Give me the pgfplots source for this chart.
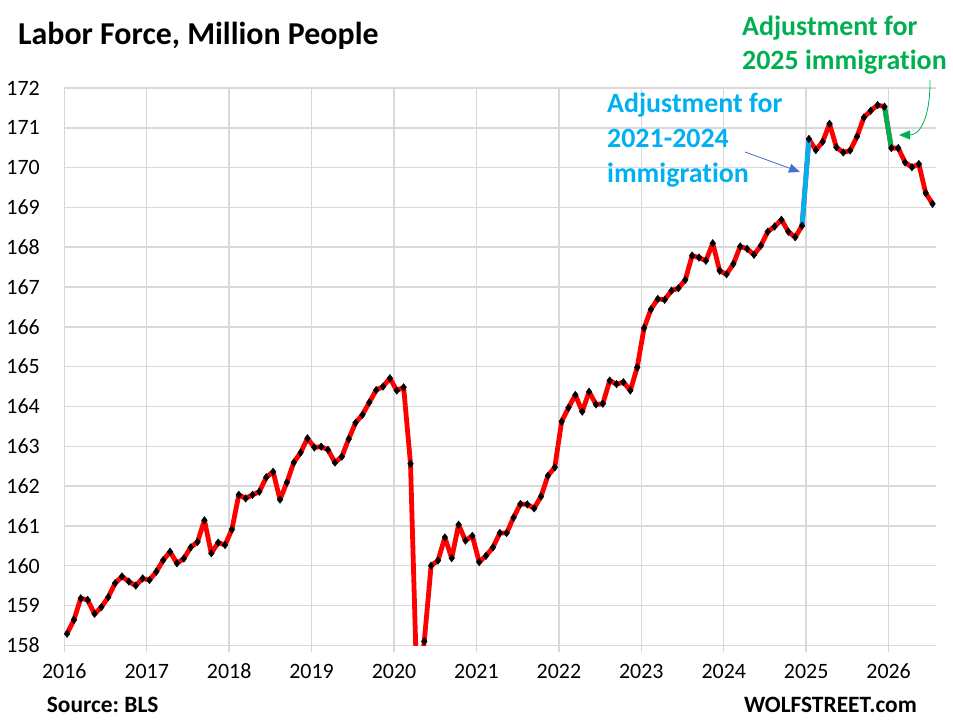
\documentclass[border=0pt]{standalone}
\usepackage{fontspec}
\setmainfont{Carlito}[Ligatures={NoCommon}]
\usepackage{pgfplots}
\pgfplotsset{compat=1.18}
\usepackage{pgfplotstable}
\usetikzlibrary{arrows.meta}
\definecolor{gridc}{HTML}{D9D9D9}
\definecolor{adjblue}{HTML}{00B0F0}
\definecolor{adjgreen}{HTML}{00B050}
\definecolor{arrblue}{HTML}{4472C4}
\frenchspacing

% month index (0 = Jan 2016), labor force (million)
\pgfplotstableread{
m v
0 158.29
1 158.64
2 159.18
3 159.14
4 158.79
5 158.96
6 159.21
7 159.56
8 159.73
9 159.60
10 159.50
11 159.68
12 159.64
13 159.85
14 160.14
15 160.35
16 160.06
17 160.18
18 160.46
19 160.60
20 161.14
21 160.31
22 160.58
23 160.52
24 160.91
25 161.78
26 161.69
27 161.78
28 161.86
29 162.22
30 162.36
31 161.66
32 162.09
33 162.59
34 162.84
35 163.20
36 162.97
37 162.99
38 162.91
39 162.59
40 162.74
41 163.18
42 163.59
43 163.79
44 164.10
45 164.41
46 164.50
47 164.71
48 164.40
49 164.48
50 162.56
51 156.50
52 158.10
53 160.00
54 160.13
55 160.71
56 160.19
57 161.03
58 160.63
59 160.75
60 160.09
61 160.25
62 160.46
63 160.82
64 160.82
65 161.21
66 161.55
67 161.54
68 161.44
69 161.74
70 162.26
71 162.47
72 163.62
73 163.97
74 164.29
75 163.87
76 164.37
77 164.05
78 164.07
79 164.65
80 164.56
81 164.61
82 164.40
83 164.98
84 165.97
85 166.44
86 166.70
87 166.68
88 166.91
89 166.97
90 167.18
91 167.79
92 167.74
93 167.66
94 168.10
95 167.41
96 167.32
97 167.58
98 168.02
99 167.96
100 167.81
101 168.04
102 168.39
103 168.52
104 168.69
105 168.39
106 168.25
107 168.54
108 170.72
109 170.44
110 170.65
111 171.10
112 170.51
113 170.38
114 170.43
115 170.78
116 171.26
117 171.43
118 171.57
119 171.53
120 170.49
121 170.49
122 170.13
123 170.01
124 170.09
125 169.36
126 169.09
}\lf

\pgfplotstableread{
m v
107 168.54
108 170.72
}\blueseg

\pgfplotstableread{
m v
119 171.53
120 170.49
}\greenseg

\begin{document}
\begin{tikzpicture}
\useasboundingbox (-64.3bp,-77.7bp) rectangle (888.7bp,645.3bp);
\begin{axis}[
  at={(0,0)}, anchor=south west,
  scale only axis, width=871.7bp, height=557.3bp,
  xmin=-0.4, xmax=126.5, ymin=158, ymax=172,
  xtick={-0.4,11.6,23.6,35.6,47.6,59.6,71.6,83.6,95.6,107.6,119.6},
  xticklabels={2016,2017,2018,2019,2020,2021,2022,2023,2024,2025,2026},
  ytick={158,159,160,161,162,163,164,165,166,167,168,169,170,171,172},
  grid=major,
  major grid style={gridc, line width=1.5bp},
  axis line style={draw=none},
  tick pos=left,
  tick align=outside,
  major tick length=7bp,
  xtick style={gridc, line width=1.5bp},
  ytick style={draw=none},
  tick label style={font=\fontsize{22}{26}\selectfont},
  /pgf/number format/assume math mode=true,
  yticklabel style={xshift=-14bp},
  xticklabel style={yshift=-8bp},
  clip=true,
]
\addplot[red, line width=4.8bp, line join=round, no markers] table[x=m,y=v]{\lf};
\addplot[adjblue, line width=4.8bp, no markers] table[x=m,y=v]{\blueseg};
\addplot[adjgreen, line width=4.8bp, no markers] table[x=m,y=v]{\greenseg};
\addplot[only marks, mark=diamond*, mark size=3.8bp, black] table[x=m,y=v]{\lf};
\end{axis}

% title
\node[anchor=base west, inner sep=0, font=\bfseries\fontsize{32}{37}\selectfont] at (-46.3bp,600.3bp) {Labor Force, Million People};

% blue annotation
\node[anchor=base west, inner sep=0, text=adjblue, font=\bfseries\fontsize{28}{33}\selectfont] at (542.7bp,532.3bp) {Adjustment for};
\node[anchor=base west, inner sep=0, text=adjblue, font=\bfseries\fontsize{28}{33}\selectfont] at (542.7bp,497.3bp) {2021-2024};
\node[anchor=base west, inner sep=0, text=adjblue, font=\bfseries\fontsize{28}{33}\selectfont] at (542.7bp,462.3bp) {immigration};
\draw[arrblue, line width=0.8bp, -{Triangle[length=11bp,width=9bp]}] (680.7bp,493.3bp) -- (735.7bp,473.3bp);

% green annotation
\node[anchor=base west, inner sep=0, text=adjgreen, font=\bfseries\fontsize{28}{33}\selectfont] at (677.7bp,609.3bp) {Adjustment for};
\node[anchor=base west, inner sep=0, text=adjgreen, font=\bfseries\fontsize{28}{33}\selectfont] at (677.7bp,575.3bp) {2025 immigration};
\draw[adjgreen, line width=0.8bp, -{Triangle[length=11bp,width=9bp]}] (865.7bp,565.3bp) .. controls (866bp,528bp) and (856bp,510.3bp) .. (834.7bp,510.3bp);

% footer
\node[anchor=base west, inner sep=0, font=\bfseries\fontsize{23.5}{28}\selectfont] at (-17.6bp,-67.4bp) {Source: BLS};
\node[anchor=base east, inner sep=0, font=\bfseries\fontsize{23.5}{28}\selectfont] at (852.7bp,-67.4bp) {WOLFSTREET.com};
\end{tikzpicture}
\end{document}
